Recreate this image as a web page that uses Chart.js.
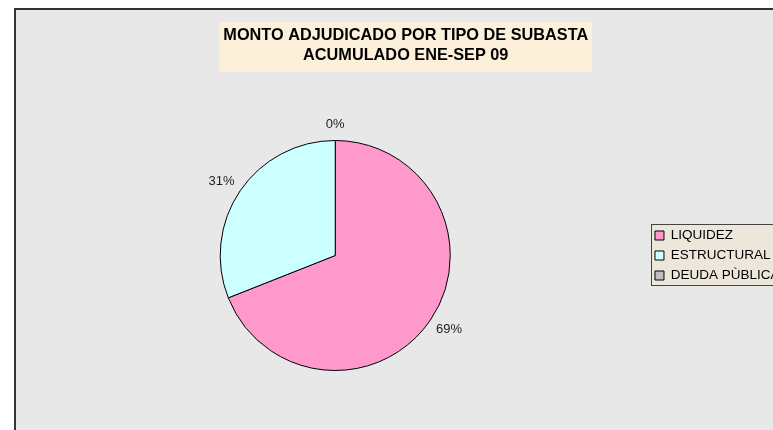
<!DOCTYPE html>
<html>
<head>
<meta charset="utf-8">
<script src="https://cdn.jsdelivr.net/npm/chart.js@4/dist/chart.umd.min.js"></script>
<style>
  html, body { margin: 0; padding: 0; background: #fff; overflow: hidden; }
  #wrap { width: 773px; height: 430px; overflow: hidden; position: relative; }
  #wrap canvas { position: absolute; left: 0; top: 0; }
</style>
</head>
<body>
<div id="wrap"><canvas id="chart" width="800" height="430"></canvas></div>
<script>
// Share of awarded amount by auction type (percent), Jan-Sep 09.
var categories = ['LIQUIDEZ', 'ESTRUCTURAL', 'DEUDA PÙBLICA'];
var shares = [69, 31, 0];
var titleLines = ['MONTO ADJUDICADO POR TIPO DE SUBASTA', 'ACUMULADO ENE-SEP 09'];

var sliceColors = ['#ff99cc', '#ccffff', '#c0c0c0'];
var FONT = '"Liberation Sans", Arial, sans-serif';

// ── Frame, title box and legend box (Excel-style panels) ──────────────────────
var panelPlugin = {
  id: 'panels',
  beforeDraw: function(chart) {
    var ctx = chart.ctx, W = chart.width, H = chart.height;
    ctx.save();
    ctx.fillStyle = '#fff';
    ctx.fillRect(0, 0, W, H);
    ctx.fillStyle = '#e8e8e8';
    ctx.fillRect(14, 8, W, H);
    ctx.strokeStyle = '#333';
    ctx.lineWidth = 2;
    ctx.beginPath();
    ctx.moveTo(15, H + 2); ctx.lineTo(15, 9); ctx.lineTo(W + 2, 9);
    ctx.stroke();

    // title background
    var tb = chart.titleBlock;
    var topt = chart.options.plugins.title;
    ctx.font = 'bold ' + topt.font.size + 'px ' + FONT;
    var tw = 0;
    titleLines.forEach(function(l) { tw = Math.max(tw, ctx.measureText(l).width); });
    var cx = (tb.left + tb.right) / 2;
    var ty = tb.top + topt.padding.top;
    var th = titleLines.length * topt.font.size * topt.font.lineHeight;
    ctx.fillStyle = '#fdf0db';
    ctx.fillRect(Math.round(cx - tw / 2 - 4), ty - 4, Math.round(tw + 8), th + 10);

    // legend background
    var hb = chart.legend.legendHitBoxes;
    if (hb && hb.length) {
      var x0 = Math.round(hb[0].left) - 3.5;
      var y0 = Math.round(hb[0].top) - 4.5;
      var last = hb[hb.length - 1];
      var y1 = Math.round(last.top + last.height) + 3.5;
      ctx.fillStyle = '#ede6da';
      ctx.fillRect(x0, y0, W, y1 - y0);
      ctx.strokeStyle = '#444';
      ctx.lineWidth = 1;
      ctx.strokeRect(x0, y0, W, y1 - y0);
    }
    ctx.restore();
  }
};

// ── Percent labels outside each slice ─────────────────────────────────────────
// Label box sits a fixed gap off the rim, pushed out by its own half-size
// along the slice's mid direction (how Excel places outside-end labels).
var pctLabelPlugin = {
  id: 'pctLabels',
  afterDatasetsDraw: function(chart) {
    var ctx = chart.ctx;
    var meta = chart.getDatasetMeta(0);
    var data = chart.data.datasets[0].data;
    var total = data.reduce(function(s, v) { return s + v; }, 0);
    var gap = 9.5, halfH = 6.5;
    ctx.save();
    ctx.font = '13px ' + FONT;
    ctx.fillStyle = '#222';
    ctx.textAlign = 'center';
    ctx.textBaseline = 'middle';
    meta.data.forEach(function(arc, i) {
      var p = arc.getProps(['x', 'y', 'startAngle', 'endAngle', 'outerRadius'], true);
      var mid = (p.startAngle + p.endAngle) / 2;
      var c = Math.cos(mid), s = Math.sin(mid);
      var txt = Math.round(data[i] / total * 100) + '%';
      var halfW = ctx.measureText(txt).width / 2;
      var d = p.outerRadius + gap;
      ctx.fillText(txt, p.x + c * d + c * halfW, p.y + s * d + s * halfH);
    });
    ctx.restore();
  }
};

new Chart(document.getElementById('chart'), {
  type: 'pie',
  data: {
    labels: categories,
    datasets: [{
      data: shares,
      backgroundColor: sliceColors,
      borderColor: '#000',
      borderWidth: 1,
      hoverOffset: 0
    }]
  },
  options: {
    responsive: false,
    animation: false,
    events: [],
    layout: { padding: { top: 0, bottom: 59, left: 22, right: 10.5 } },
    plugins: {
      title: {
        display: true,
        text: titleLines,
        color: '#000',
        font: { family: FONT, size: 16.3, weight: 'bold', lineHeight: 1.227 },
        padding: { top: 26, bottom: 74 }
      },
      legend: {
        position: 'right',
        align: 'center',
        fullSize: false,
        labels: {
          color: '#000',
          font: { family: FONT, size: 13.5 },
          boxWidth: 9,
          boxHeight: 9,
          padding: 6.5
        }
      },
      tooltip: { enabled: false }
    }
  },
  plugins: [panelPlugin, pctLabelPlugin]
});
</script>
</body>
</html>
